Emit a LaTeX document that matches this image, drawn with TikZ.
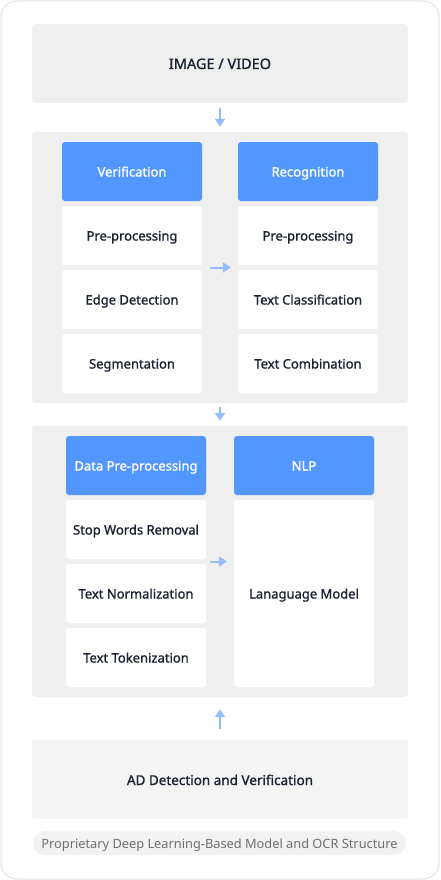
\documentclass[tikz,border=0pt]{standalone}
\usepackage{fontspec}
\setmainfont{Noto Sans}
\newfontfamily\medfont{Noto Sans}[FakeBold=1.3]
\usetikzlibrary{arrows.meta}

\definecolor{panelgray}{HTML}{EFEFEF}
\definecolor{adgray}{HTML}{F4F4F4}
\definecolor{pillgray}{HTML}{F2F2F2}
\definecolor{framegray}{HTML}{E2E2E2}
\definecolor{headblue}{HTML}{5296FF}
\definecolor{flowblue}{HTML}{93BCFF}
\definecolor{inkdark}{HTML}{1B2333}
\definecolor{capgray}{HTML}{6E6E6E}

\tikzset{
  panel/.style={rectangle, rounded corners=3pt, fill=panelgray, minimum width=376pt, inner sep=0pt, text height=12pt, text depth=1pt},
  head/.style={rectangle, rounded corners=3pt, fill=headblue, text=white, minimum width=140pt, minimum height=59pt, inner sep=0pt, text height=11pt, text depth=1pt, font=\medfont\fontsize{13}{15}\selectfont},
  item/.style={rectangle, rounded corners=3pt, fill=white, text=inkdark, minimum width=140pt, minimum height=59pt, inner sep=0pt, text height=11pt, text depth=1pt, font=\medfont\fontsize{13}{15}\selectfont},
  flow/.style={draw=flowblue, line width=2pt, -{Triangle[length=8pt, width=10pt]}},
}

\begin{document}
\begin{tikzpicture}[x=1pt, y=-1pt]
  \useasboundingbox (0,0) rectangle (440,880);
  % outer frame
  \draw[framegray, line width=1pt, rounded corners=16pt] (1,1) rectangle (439,879);

  % input
  \node[panel, minimum height=79pt, text=inkdark, font=\medfont\fontsize{14.5}{17}\selectfont] (img) at (220,63.5) {IMAGE / VIDEO};

  % OCR stage
  \node[panel, minimum height=271pt] (ocr) at (220,267.5) {};
  \node[head] (ver) at (132,171.5) {Verification};
  \node[item] (vpre) at (132,235.5) {Pre-processing};
  \node[item] (edge) at (132,299.5) {Edge Detection};
  \node[item] (seg) at (132,363.5) {Segmentation};
  \node[head] (rec) at (308,171.5) {Recognition};
  \node[item] (rpre) at (308,235.5) {Pre-processing};
  \node[item] (tcls) at (308,299.5) {Text Classification};
  \node[item] (tcmb) at (308,363.5) {Text Combination};

  % NLP stage
  \node[panel, minimum height=271pt] (lang) at (220,561.5) {};
  \node[head] (dpp) at (136,465.5) {Data Pre-processing};
  \node[item] (stop) at (136,529.5) {Stop Words Removal};
  \node[item] (norm) at (136,593.5) {Text Normalization};
  \node[item] (tok) at (136,657.5) {Text Tokenization};
  \node[head] (nlp) at (304,465.5) {NLP};
  \node[item, minimum height=187pt] (lm) at (304,593.5) {Lanaguage Model};

  % output
  \node[panel, fill=adgray, minimum height=79pt, text=inkdark, font=\medfont\fontsize{13.5}{16}\selectfont] (ad) at (220,779.5) {AD Detection and Verification};

  % caption
  \node[rectangle, rounded corners=12pt, fill=pillgray, text=capgray, minimum width=373pt, minimum height=24pt, inner sep=0pt, text height=11.5pt, text depth=1pt, font=\fontsize{12.8}{15}\selectfont] (cap) at (219.5,843) {Proprietary Deep Learning-Based Model and OCR Structure};

  % arrows
  \draw[flow, shorten <=5pt, shorten >=5pt] (img) -- (ocr);
  \draw[flow, shorten <=8pt, shorten >=7pt] (edge.east |- ocr.center) -- (tcls.west |- ocr.center);
  \draw[flow, shorten <=4pt, shorten >=5pt] (ocr) -- (lang);
  \draw[flow, shorten <=4pt, shorten >=7pt] (norm.east |- lang.center) -- (lm.west |- lang.center);
  \draw[flow, shorten <=11pt, shorten >=12pt] (ad) -- (lang);
\end{tikzpicture}
\end{document}
